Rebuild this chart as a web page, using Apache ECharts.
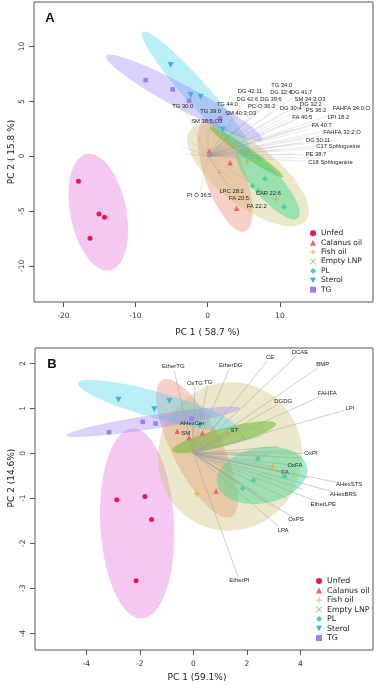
<!DOCTYPE html>
<html>
<head>
<meta charset="utf-8">
<script src="https://cdn.jsdelivr.net/npm/echarts@6/dist/echarts.min.js"></script>
<style>
html, body { margin: 0; padding: 0; background: #fff; }
#main { width: 376px; height: 685px; }
</style>
</head>
<body>
<div id="main"></div>
<script>
// groups (legend order)
var groups = ['Unfed', 'Calanus oil', 'Fish oil', 'Empty LNP', 'PL', 'Sterol', 'TG'];

// ---- panel A : scores ----
var aUnfed = [[-17.9, -2.28], [-15.06, -5.27], [-14.3, -5.57], [-16.3, -7.49]];
var aCalanus = [[4.0, -4.75], [0.22, 0.46], [3.1, -0.61]];
var aFishOil = [[1.6, -1.49], [5.49, -0.49], [9.46, -3.93]];
var aEmptyLNP = [[2.63, 1.76], [5.17, 0.21], [7.0, -0.24]];
var aPL = [[7.94, -2.07], [6.2, -2.71], [7.0, -3.17], [10.6, -4.63]];
var aSterol = [[-5.12, 8.31], [-2.35, 5.57], [-0.97, 5.42], [2.08, 2.44]];
var aTG = [[-8.59, 6.94], [-4.85, 6.09], [-2.59, 5.05], [1.7, 3.44]];

// confidence ellipses: centre x, centre y, axis1 (dx,dy), axis2 (dx,dy)
var aEllipses = [
	[-15.15, -5.11, 1.61, -5.3, 3.8, 0.5],
	[2.4, -1.74, 2.77, -5.11, 2.61, 0.61],
	[5.58, -1.74, 8.03, -4.11, 2.55, 2.16],
	[5.37, 0.37, 5.06, -2.28, 0.39, 0.38],
	[8.35, -2.56, 4.16, -3.1, 1.45, 0.85],
	[-1.6, 5.84, 7.41, -5.48, 1.24, 0.73],
	[-3.27, 5.3, 10.8, -3.84, 0.79, 0.96]
];

// loadings
var aLoadNames = ['TG 34:0', 'DG 42:11', 'DG 32:4', 'DG 41:7', 'DG 42:6', 'DG 39:6', 'SM 34:3;O3', 'TG 44:0',
	'PC-O 36:2', 'DG 32:2', 'TG 30:0', 'DG 30:4', 'PS 36:2', 'FAHFA 24:0;O', 'TG 39:0', 'SM 40:3;O3',
	'FA 40:5', 'LPI 18:2', 'SM 38:5;O3', 'FA 40:7', 'FAHFA 32:2;O', 'DG 50:11', 'C17 Sphingosine',
	'PE 38:7', 'C18 Sphinganine', 'PI O 36:5', 'LPC 28:2', 'FA 20:5', 'CAR 22:6', 'FA 22:2'];
var aLoadX = [10.25, 5.86, 10.15, 13.0, 5.49, 8.77, 14.17, 2.71, 7.48, 14.3, -3.46, 11.5, 15.0, 19.9, 0.41, 4.57,
	13.1, 18.1, -0.14, 15.8, 18.6, 15.3, 18.1, 15.0, 17.0, -1.16, 3.32, 4.34, 8.4, 6.78];
var aLoadY = [6.48, 5.94, 5.82, 5.82, 5.2, 5.14, 5.2, 4.75, 4.5, 4.75, 4.57, 4.36, 4.14, 4.36, 4.11, 3.9,
	3.53, 3.53, 3.13, 2.77, 2.16, 1.46, 0.85, 0.18, -0.58, -3.59, -3.2, -3.87, -3.41, -4.54];
var aLoadExtra = [[-3.6, 0.9], [-2.5, 1.5], [-3.0, 0.2], [12, 2.5], [14, 1.8], [16, 3.2], [17, 2.4], [11, 3.3],
	[9, 4], [13, 1.2], [15.5, -0.2], [10, 0.6], [8, 2], [6, 3], [18, 1.5], [4, 2.5], [12, 0.2], [16.5, 1.0]];

var aTicksX = [-20, -10, 0, 10];
var aTicksY = [-10, -5, 0, 5, 10];

// ---- panel B : scores ----
var bUnfed = [[-2.86, -1.03], [-1.81, -0.96], [-1.56, -1.47], [-2.14, -2.83]];
var bCalanus = [[-0.6, 0.49], [-0.16, 0.35], [0.34, 0.45], [0.85, -0.84]];
var bFishOil = [[0.75, 0.51], [1.25, 0.46], [2.97, -0.3], [0.13, -0.9]];
var bEmptyLNP = [[0.06, 0.24], [1.0, 0.36], [1.64, 0.53], [1.84, 0.38]];
var bPL = [[2.41, -0.12], [3.41, -0.51], [2.25, -0.6], [1.84, -0.78]];
var bSterol = [[-2.8, 1.19], [-1.46, 0.98], [-0.9, 1.16], [0.25, 0.62]];
var bTG = [[-3.15, 0.47], [-1.89, 0.7], [-1.41, 0.66], [-0.06, 0.77]];

var bEllipses = [
	[-2.1, -1.56, -0.15, 2.11, 1.38, 0],
	[0.14, 0.11, 1.29, -1.52, 0.83, 0.25],
	[1.37, -0.07, 0.93, 1.56, 2.53, -0.54],
	[1.15, 0.36, 1.94, 0.3, -0.085, 0.19],
	[2.57, -0.49, 1.68, 0.18, -0.18, 0.61],
	[-1.36, 1.07, 2.95, -0.49, 0.13, 0.28],
	[-1.49, 0.7, 3.24, 0.3, -0.04, 0.153]
];

var bLoadNames = ['EtherTG', 'EtherDG', 'CE', 'DCAE', 'BMP', 'OxTG', 'TG', 'FAHFA', 'DGDG', 'LPI', 'AHexCer',
	'SM', 'ST', 'OxPI', 'OxFA', 'FA', 'AHexSTS', 'AHexBRS', 'EtherLPE', 'OxPS', 'LPA', 'EtherPI'];
var bLoadX = [-0.75, 1.4, 2.87, 3.99, 4.84, 0.06, 0.56, 5.01, 3.36, 5.86, -0.04, -0.28, 1.53, 4.4, 3.8, 3.43,
	5.83, 5.61, 4.86, 3.84, 3.36, 1.72];
var bLoadY = [1.93, 1.95, 2.13, 2.24, 1.97, 1.56, 1.58, 1.33, 1.16, 0.99, 0.66, 0.45, 0.51, 0.0, -0.27, -0.43,
	-0.7, -0.92, -1.13, -1.47, -1.71, -2.82];
var bLoadExtra = [[3.2, 0.15], [3.6, 0.05], [4.0, -0.1], [2.8, -0.05], [3.0, -0.3], [4.3, -0.55], [4.1, -0.8],
	[3.5, -1.0], [3.0, -1.2], [2.6, 0.4], [2.0, 0.6], [1.2, 0.9], [2.4, -0.9]];

var bTicksX = [-4, -2, 0, 2, 4];
var bTicksY = [-4, -3, -2, -1, 0, 1, 2];

// styles
var pointColors = ['#E8174F', '#F2625F', '#D9A32E', '#7CC241', '#4DD49A', '#38B3E6', '#A07EF2'];
var ellipseColors = ['rgba(228,110,222,0.38)', 'rgba(235,120,95,0.35)', 'rgba(200,190,110,0.35)',
	'rgba(110,185,40,0.55)', 'rgba(60,215,140,0.45)', 'rgba(60,210,235,0.35)', 'rgba(150,125,240,0.35)'];
var symbols = ['circle', 'triangle',
	'path://M4.4,0H5.6V4.4H10V5.6H5.6V10H4.4V5.6H0V4.4H4.4Z',
	'path://M0.8,0L5,4.2L9.2,0L10,0.8L5.8,5L10,9.2L9.2,10L5,5.8L0.8,10L0,9.2L4.2,5L0,0.8Z',
	'diamond', 'path://M0,0L10,0L5,9Z', 'rect'];
var symbolSizes = [5, 5.5, 6, 5, 6, 6, 4.6];

// ellipse polygon
function ellipseRender(params, api) {
	var cx = api.value(0), cy = api.value(1);
	var ax = api.value(2), ay = api.value(3);
	var bx = api.value(4), by = api.value(5);
	var pts = [];
	for (var i = 0; i < 80; i++) {
		var t = i / 80 * Math.PI * 2;
		pts.push(api.coord([cx + Math.cos(t) * ax + Math.sin(t) * bx, cy + Math.cos(t) * ay + Math.sin(t) * by]));
	}
	return {
		type : 'polygon',
		shape : { points : pts },
		style : { fill : api.visual('color') }
	};
}

// loading line + label
function loadingRender(names, lineColor, fontSize) {
	return function(params, api) {
		var o = api.coord([0, 0]);
		var p = api.coord([api.value(0), api.value(1)]);
		var name = names[params.dataIndex];
		var dx = p[0] - o[0], dy = p[1] - o[1];
		var len = Math.sqrt(dx * dx + dy * dy) || 1;
		var ux = dx / len, uy = dy / len;
		var end = p;
		var children = [];
		if (name) {
			var hw = name.length * fontSize * 0.27 + 1;
			var hh = fontSize * 0.6;
			var t = Math.min(hw / Math.max(Math.abs(ux), 1e-6), hh / Math.max(Math.abs(uy), 1e-6));
			t = Math.min(t, len);
			end = [p[0] - ux * t, p[1] - uy * t];
		}
		children.push({
			type : 'line',
			shape : { x1 : o[0], y1 : o[1], x2 : end[0], y2 : end[1] },
			style : { stroke : lineColor, lineWidth : 0.6 }
		});
		if (name) {
			children.push({
				type : 'text',
				x : p[0],
				y : p[1],
				style : {
					text : name,
					fill : '#222',
					font : fontSize + 'px "Liberation Sans", Arial, sans-serif',
					align : 'center',
					verticalAlign : 'middle'
				}
			});
		}
		return { type : 'group', children : children };
	};
}

function pairs(xs, ys) {
	return xs.map(function(x, i) {
		return [x, ys[i]];
	});
}

function panelSeries(idx, points, ellipses, loadData, names, lineColor, fontSize) {
	var list = [];
	list.push({
		type : 'custom',
		xAxisIndex : idx,
		yAxisIndex : idx,
		renderItem : ellipseRender,
		encode : { x : 0, y : 1 },
		z : 1,
		silent : true,
		data : ellipses.map(function(e, i) {
			return { value : e, itemStyle : { color : ellipseColors[i] } };
		})
	});
	for (var g = 0; g < groups.length; g++) {
		list.push({
			name : groups[g],
			type : 'scatter',
			xAxisIndex : idx,
			yAxisIndex : idx,
			symbol : symbols[g],
			symbolSize : symbolSizes[g],
			itemStyle : { color : pointColors[g], opacity : 1 },
			z : 2,
			data : points[g]
		});
	}
	list.push({
		type : 'custom',
		xAxisIndex : idx,
		yAxisIndex : idx,
		renderItem : loadingRender(names, lineColor, fontSize),
		encode : { x : 0, y : 1 },
		z : 3,
		silent : true,
		data : loadData
	});
	return list;
}

function axis(idx, min, max, ticks, isY) {
	return {
		gridIndex : idx,
		type : 'value',
		min : min,
		max : max,
		splitLine : { show : false },
		axisLine : { show : false, onZero : false },
		axisTick : { show : true, length : 5, lineStyle : { color : '#555' }, customValues : ticks },
		axisLabel : {
			customValues : ticks,
			color : '#333',
			fontSize : 7.5,
			fontFamily : 'DejaVu Sans',
			rotate : isY ? 90 : 0,
			margin : isY ? 8 : 10
		}
	};
}

var chart = echarts.init(document.getElementById('main'), null, { renderer : 'canvas' });

var series = panelSeries(0, [aUnfed, aCalanus, aFishOil, aEmptyLNP, aPL, aSterol, aTG], aEllipses,
	pairs(aLoadX, aLoadY).concat(aLoadExtra), aLoadNames, 'rgba(150,150,150,0.35)', 5.8)
	.concat(panelSeries(1, [bUnfed, bCalanus, bFishOil, bEmptyLNP, bPL, bSterol, bTG], bEllipses,
	pairs(bLoadX, bLoadY).concat(bLoadExtra), bLoadNames, 'rgba(160,160,160,0.85)', 6));

var legendText = { fontFamily : 'DejaVu Sans', color : '#222', padding : 0 };

var option = {
	animation : false,
	backgroundColor : '#fff',
	grid : [ {
		left : 34, top : 2, right : 3, bottom : 383,
		show : true, borderColor : '#555', borderWidth : 1, backgroundColor : 'transparent'
	}, {
		left : 35, top : 348, right : 3, bottom : 35,
		show : true, borderColor : '#555', borderWidth : 1, backgroundColor : 'transparent'
	} ],
	xAxis : [ axis(0, -24.06, 22.9, aTicksX, false), axis(1, -5.92, 6.72, bTicksX, false) ],
	yAxis : [ axis(0, -13.3, 14.06, aTicksY, true), axis(1, -4.37, 2.34, bTicksY, true) ],
	legend : [ {
		data : groups, orient : 'vertical', left : 310, top : 228.6, padding : 0,
		itemWidth : 6, itemHeight : 6, itemGap : 0, selectedMode : false,
		textStyle : Object.assign({ fontSize : 7.5, lineHeight : 9.4 }, legendText)
	}, {
		data : groups, orient : 'vertical', left : 316, top : 576.3, padding : 0,
		itemWidth : 6, itemHeight : 6, itemGap : 0, selectedMode : false,
		textStyle : Object.assign({ fontSize : 7.8, lineHeight : 9.5 }, legendText)
	} ],
	graphic : [ {
		type : 'text', x : 50, y : 18,
		style : { text : 'A', font : 'bold 13px "Liberation Sans", Arial', fill : '#111', align : 'center', verticalAlign : 'middle' }
	}, {
		type : 'text', x : 52, y : 364,
		style : { text : 'B', font : 'bold 13px "Liberation Sans", Arial', fill : '#111', align : 'center', verticalAlign : 'middle' }
	}, {
		type : 'text', x : 207.5, y : 333,
		style : { text : 'PC 1 ( 58.7 %)', font : '9px "DejaVu Sans"', fill : '#222', align : 'center', verticalAlign : 'middle' }
	}, {
		type : 'text', x : 12, y : 152, rotation : Math.PI / 2,
		style : { text : 'PC 2 ( 15.8 %)', font : '9px "DejaVu Sans"', fill : '#222', align : 'center', verticalAlign : 'middle' }
	}, {
		type : 'text', x : 197, y : 678,
		style : { text : 'PC 1 (59.1%)', font : '9px "DejaVu Sans"', fill : '#222', align : 'center', verticalAlign : 'middle' }
	}, {
		type : 'text', x : 12, y : 478, rotation : Math.PI / 2,
		style : { text : 'PC 2 (14.6%)', font : '9px "DejaVu Sans"', fill : '#222', align : 'center', verticalAlign : 'middle' }
	} ],
	series : series
};
chart.setOption(option);
</script>
</body>
</html>
